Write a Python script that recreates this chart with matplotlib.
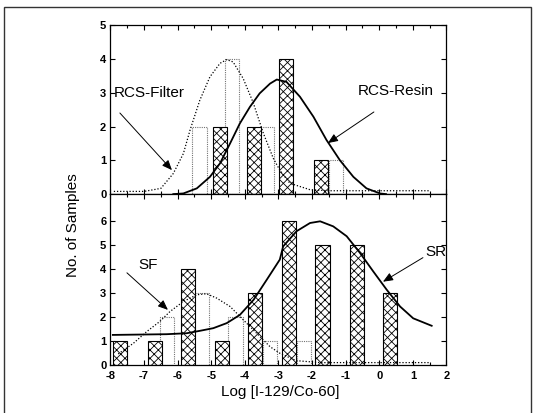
import matplotlib.pyplot as plt
from matplotlib.patches import Rectangle
from matplotlib.ticker import MultipleLocator

plt.rcParams['font.family'] = ['Liberation Sans', 'DejaVu Sans']
plt.rcParams['axes.unicode_minus'] = False
plt.rcParams['hatch.linewidth'] = 0.6

# top panel: RCS filter (open bars) / RCS resin (hatched bars)
top_open_x = [-5.35, -4.38, -3.33, -1.30]
top_open_n = [2, 4, 2, 1]
top_hatch_x = [-4.75, -3.74, -2.78, -1.73]
top_hatch_n = [2, 2, 4, 1]

filter_curve_x = [-7.9, -7.0, -6.5, -6.13, -5.83, -5.63, -5.34, -5.04, -4.74, -4.54,
                  -4.35, -4.05, -3.75, -3.45, -3.15, -2.96, -2.66, -2.06, -1.5, -0.9, 0.0, 0.8, 1.5]
filter_curve_y = [0.08, 0.08, 0.17, 0.61, 1.2, 1.9, 2.78, 3.47, 3.87, 3.98,
                  3.91, 3.42, 2.7, 1.8, 1.05, 0.71, 0.32, 0.13, 0.1, 0.1, 0.1, 0.1, 0.1]
resin_curve_x = [-6.13, -5.83, -5.43, -5.04, -4.74, -4.44, -4.15, -3.85, -3.56, -3.25,
                 -3.05, -2.76, -2.36, -1.96, -1.57, -1.17, -0.77, -0.38, 0.02, 0.2]
resin_curve_y = [0.0, 0.02, 0.17, 0.51, 0.91, 1.5, 2.09, 2.58, 2.98, 3.27,
                 3.39, 3.32, 2.88, 2.29, 1.6, 1.0, 0.51, 0.17, 0.02, 0.0]

# bottom panel: SF (open bars) / SR (hatched bars)
bot_open_x = [-6.32, -5.29, -4.28, -3.26, -2.24]
bot_open_n = [2, 3, 2, 1, 1]
bot_hatch_x = [-7.72, -6.68, -5.70, -4.68, -3.69, -2.69, -1.69, -0.67, 0.32]
bot_hatch_n = [1, 1, 4, 1, 3, 6, 5, 5, 3]

sf_curve_x = [-7.77, -7.32, -6.92, -6.53, -6.23, -5.83, -5.43, -5.14, -4.84, -4.44,
              -4.05, -3.65, -3.25, -2.96, -2.66, -2.46, -1.76, -1.0, 0.0, 0.8, 1.5]
sf_curve_y = [0.46, 0.9, 1.39, 1.81, 2.22, 2.64, 2.92, 2.96, 2.78, 2.43,
              1.88, 1.32, 0.76, 0.49, 0.3, 0.18, 0.1, 0.1, 0.1, 0.1, 0.1]
sr_curve_x = [-7.93, -6.33, -5.73, -5.34, -4.94, -4.54, -4.15, -3.74, -3.35, -2.96,
              -2.86, -2.46, -2.06, -1.76, -1.37, -0.97, -0.57, -0.18, 0.22, 0.62, 1.01, 1.56]
sr_curve_y = [1.25, 1.28, 1.32, 1.42, 1.53, 1.74, 2.08, 2.71, 3.54, 4.38,
              4.93, 5.56, 5.9, 5.97, 5.76, 5.35, 4.65, 3.89, 3.13, 2.43, 1.94, 1.63]

bar_w = 0.42

fig = plt.figure(figsize=(5.35, 4.13), dpi=100)
fig.patches.append(Rectangle((4 / 535, -0.05), 527 / 535, 1.05 - 7 / 413, transform=fig.transFigure,
                             fill=False, edgecolor='0.2', linewidth=1.0))

ax_top = fig.add_axes([0.2065, 0.530, 0.628, 0.4092])
ax_bot = fig.add_axes([0.2065, 0.1162, 0.628, 0.4138], sharex=ax_top)


def draw_bars(ax, xo, no, xh, nh):
    ax.bar(xo, no, width=bar_w, facecolor='white', edgecolor='0.45', linewidth=0.8,
           linestyle=(0, (1, 1)), zorder=2)
    ax.bar(xh, nh, width=bar_w, facecolor='white', edgecolor='black', hatch='xxxx',
           linewidth=0.8, zorder=2)


draw_bars(ax_top, top_open_x, top_open_n, top_hatch_x, top_hatch_n)
ax_top.plot(filter_curve_x, filter_curve_y, color='black', linestyle=(0, (1, 1.5)), linewidth=0.9, zorder=3)
ax_top.plot(resin_curve_x, resin_curve_y, color='black', linewidth=1.3, zorder=3)

draw_bars(ax_bot, bot_open_x, bot_open_n, bot_hatch_x, bot_hatch_n)
ax_bot.plot(sf_curve_x, sf_curve_y, color='black', linestyle=(0, (1, 1.5)), linewidth=0.9, zorder=3)
ax_bot.plot(sr_curve_x, sr_curve_y, color='black', linewidth=1.3, zorder=3)

arrow = dict(arrowstyle='-|>,head_length=0.6,head_width=0.25', color='black', linewidth=0.7,
             shrinkA=0, shrinkB=0)
ax_top.text(-7.9, 2.98, 'RCS-Filter', fontsize=11, va='center', ha='left')
ax_top.annotate('', xy=(-6.17, 0.71), xytext=(-7.72, 2.4), arrowprops=arrow)
ax_top.text(-0.63, 3.05, 'RCS-Resin', fontsize=11, va='center', ha='left')
ax_top.annotate('', xy=(-1.53, 1.51), xytext=(-0.16, 2.43), arrowprops=arrow)
ax_bot.text(-7.18, 4.17, 'SF', fontsize=11, va='center', ha='left')
ax_bot.annotate('', xy=(-6.29, 2.29), xytext=(-7.51, 3.83), arrowprops=arrow)
ax_bot.text(1.36, 4.7, 'SR', fontsize=11, va='center', ha='left')
ax_bot.annotate('', xy=(0.11, 3.46), xytext=(1.3, 4.46), arrowprops=arrow)

ax_top.set_xlim(-8, 2)
ax_top.set_ylim(0, 5)
ax_bot.set_ylim(0, 7.1)
ax_top.set_yticks(range(0, 6))
ax_bot.set_yticks(range(0, 7))
ax_top.set_xticks(range(-8, 3))

for ax in (ax_top, ax_bot):
    ax.xaxis.set_minor_locator(MultipleLocator(0.5))
    ax.tick_params(which='both', direction='in', top=True, right=True, width=0.8)
    ax.tick_params(which='major', length=3.5, labelsize=8)
    ax.tick_params(axis='y', which='major', pad=3)
    ax.tick_params(axis='x', which='major', pad=4)
    ax.tick_params(which='minor', length=2)
    for lab in ax.get_yticklabels() + ax.get_xticklabels():
        lab.set_fontweight('bold')
    for sp in ax.spines.values():
        sp.set_linewidth(0.9)

ax_top.tick_params(labelbottom=False)

fig.text(73 / 535, 1 - 225 / 413, 'No. of Samples', rotation=90, fontsize=11, ha='center', va='center')
fig.text(280 / 535, 1 - 392 / 413, 'Log [I-129/Co-60]', fontsize=11, ha='center', va='center')

fig.savefig('out.png', dpi=100)
